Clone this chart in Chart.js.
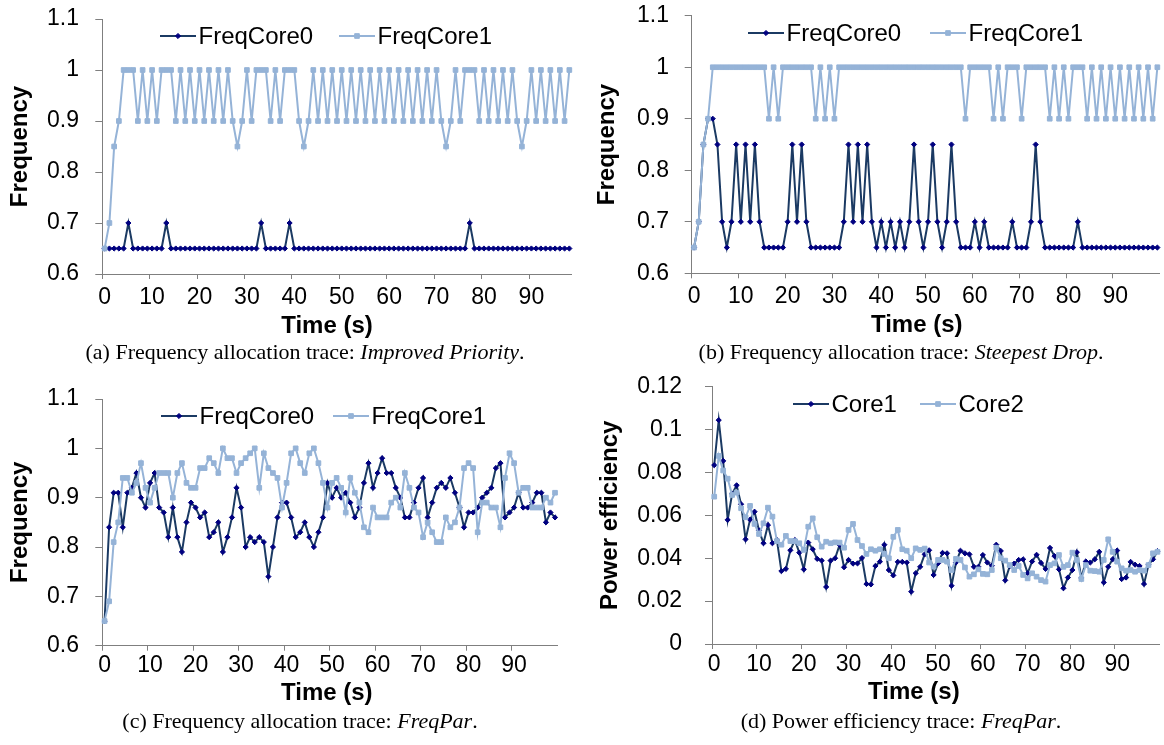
<!DOCTYPE html>
<html><head><meta charset="utf-8">
<script src="https://cdn.jsdelivr.net/npm/chart.js@4.4.1/dist/chart.umd.min.js"></script>
<style>
html,body{margin:0;padding:0;background:#fff;}
body{width:1164px;height:745px;overflow:hidden;position:relative;}
.pn{position:absolute;}
.cap{position:absolute;width:640px;text-align:center;font-family:"Liberation Serif","Times New Roman",serif;font-size:22px;line-height:22px;color:#000;white-space:nowrap;z-index:5;}
</style></head><body>
<canvas id="ca" class="pn" style="left:0;top:0"></canvas>
<canvas id="cb" class="pn" style="left:592px;top:0"></canvas>
<canvas id="cc" class="pn" style="left:0;top:360px"></canvas>
<canvas id="cd" class="pn" style="left:592px;top:360px"></canvas>
<div class="cap" style="left:-15px;top:341px">(a) Frequency allocation trace: <i>Improved Priority</i>.</div>
<div class="cap" style="left:581px;top:341px">(b) Frequency allocation trace: <i>Steepest Drop</i>.</div>
<div class="cap" style="left:-20px;top:710px">(c) Frequency allocation trace: <i>FreqPar</i>.</div>
<div class="cap" style="left:581px;top:710px">(d) Power efficiency trace: <i>FreqPar</i>.</div>
<script>
// ---------- categories ----------
const timeA = Array.from({length: 99}, (_, i) => i);
const timeB = Array.from({length: 100}, (_, i) => i);
const timeC = Array.from({length: 100}, (_, i) => i);
const timeD = Array.from({length: 100}, (_, i) => i);

// ---------- (a) Improved Priority ----------
const ipCore0 = [
 .65,.65,.65,.65,.65,.7,.65,.65,.65,.65,
 .65,.65,.65,.7,.65,.65,.65,.65,.65,.65,
 .65,.65,.65,.65,.65,.65,.65,.65,.65,.65,
 .65,.65,.65,.7,.65,.65,.65,.65,.65,.7,
 .65,.65,.65,.65,.65,.65,.65,.65,.65,.65,
 .65,.65,.65,.65,.65,.65,.65,.65,.65,.65,
 .65,.65,.65,.65,.65,.65,.65,.65,.65,.65,
 .65,.65,.65,.65,.65,.65,.65,.7,.65,.65,
 .65,.65,.65,.65,.65,.65,.65,.65,.65,.65,
 .65,.65,.65,.65,.65,.65,.65,.65,.65];
const ipCore1 = [
 .65,.7,.85,.9,1,1,1,.9,1,.9,
 1,.9,1,1,1,.9,1,.9,1,.9,
 1,.9,1,.9,1,.9,1,.9,.85,.9,
 1,.9,1,1,1,.9,1,.9,1,1,
 1,.9,.85,.9,1,.9,1,.9,1,.9,
 1,.9,1,.9,1,.9,1,.9,1,.9,
 1,.9,1,.9,1,.9,1,.9,1,.9,
 1,.9,.85,.9,1,.9,1,1,1,.9,
 1,.9,1,.9,1,.9,1,.9,.85,.9,
 1,.9,1,.9,1,.9,1,.9,1];

// ---------- (b) Steepest Drop ----------
const sdCore0 = [
 .65,.7,.85,.9,.9,.85,.7,.65,.7,.85,
 .7,.85,.7,.85,.7,.65,.65,.65,.65,.65,
 .7,.85,.7,.85,.7,.65,.65,.65,.65,.65,
 .65,.65,.7,.85,.7,.85,.7,.85,.7,.65,
 .7,.65,.7,.65,.7,.65,.7,.85,.7,.65,
 .7,.85,.7,.65,.7,.85,.7,.65,.65,.65,
 .7,.65,.7,.65,.65,.65,.65,.65,.7,.65,
 .65,.65,.7,.85,.7,.65,.65,.65,.65,.65,
 .65,.65,.7,.65,.65,.65,.65,.65,.65,.65,
 .65,.65,.65,.65,.65,.65,.65,.65,.65,.65];
const sdCore1 = [
 .65,.7,.85,.9,1,1,1,1,1,1,
 1,1,1,1,1,1,.9,1,.9,1,
 1,1,1,1,1,1,.9,1,.9,1,
 .9,1,1,1,1,1,1,1,1,1,
 1,1,1,1,1,1,1,1,1,1,
 1,1,1,1,1,1,1,1,.9,1,
 1,1,1,1,.9,1,.9,1,1,1,
 .9,1,1,1,1,1,.9,1,.9,1,
 .9,1,1,1,.9,1,.9,1,.9,1,
 .9,1,.9,1,.9,1,.9,1,.9,1];

// ---------- (c) FreqPar frequency ----------
const fpCore0 = [
 .65,.84,.91,.91,.84,.91,.92,.95,.90,.88,
 .93,.95,.88,.87,.82,.88,.82,.79,.85,.89,
 .88,.86,.87,.82,.83,.85,.79,.82,.86,.92,
 .88,.80,.82,.81,.82,.81,.74,.80,.86,.89,
 .89,.86,.82,.83,.85,.82,.80,.83,.86,.93,
 .90,.92,.90,.91,.89,.86,.88,.93,.97,.92,
 .95,.98,.95,.95,.92,.90,.86,.86,.89,.92,
 .94,.86,.89,.92,.93,.92,.94,.91,.88,.84,
 .87,.87,.88,.90,.91,.92,.96,.97,.86,.87,
 .88,.91,.88,.88,.89,.91,.91,.85,.87,.86];
const fpCore1 = [
 .65,.69,.81,.85,.94,.94,.91,.93,.97,.92,
 .89,.92,.95,.95,.95,.90,.95,.97,.93,.92,
 .92,.96,.96,.98,.97,.95,1.0,.98,.98,.95,
 .97,.98,.99,1.0,.92,.99,.96,.95,.94,.88,
 .93,.99,1.0,.97,.95,.99,1.0,.97,.93,.88,
 .93,.94,.92,.87,.94,.91,.89,.84,.83,.88,
 .86,.86,.86,.89,.90,.88,.95,.92,.88,.87,
 .82,.85,.83,.81,.81,.86,.84,.85,.88,.96,
 .97,.96,.83,.89,.89,.88,.88,.84,.94,.99,
 .97,.91,.92,.92,.88,.88,.88,.90,.89,.91];

// ---------- (d) FreqPar power efficiency ----------
const peCore1 = [
 .0834,.1044,.0854,.0579,.070,.074,.0652,.0488,.058,.0617,
 .053,.047,.0555,.047,.0485,.034,.035,.0437,.0485,.0426,
 .0348,.0473,.0442,.0397,.0389,.0266,.0389,.040,.0462,.0358,
 .0392,.0375,.0376,.0401,.028,.0278,.0364,.0384,.0463,.0345,
 .032,.0383,.0383,.038,.0244,.033,.036,.0418,.0437,.0322,
 .0376,.0425,.0423,.0272,.038,.0435,.0423,.0418,.036,.036,
 .0415,.038,.0365,.0463,.0434,.0297,.0363,.0375,.0392,.0395,
 .033,.0385,.0416,.0378,.035,.0448,.041,.0348,.026,.031,
 .0345,.0428,.0308,.0385,.038,.0395,.043,.0287,.036,.0395,
 .0436,.0303,.031,.0383,.037,.0364,.028,.0369,.0395,.0433];
const peCore2 = [
 .0687,.0877,.0809,.0771,.0695,.0706,.0633,.0591,.0644,.056,
 .0513,.0563,.0636,.0594,.048,.0463,.0504,.048,.048,.047,
 .0439,.0547,.0586,.0498,.0454,.0477,.047,.0474,.0473,.0449,
 .0532,.056,.0485,.0457,.042,.0442,.0435,.0442,.042,.040,
 .050,.0532,.0442,.0435,.040,.0446,.0439,.0445,.038,.0361,
 .0392,.0392,.0384,.0345,.0397,.0392,.0357,.0314,.0325,.0348,
 .0327,.0325,.0345,.0449,.040,.0389,.0368,.0345,.0364,.0322,
 .0306,.033,.0314,.0298,.0291,.0368,.0376,.0415,.036,.0368,
 .0426,.0392,.0303,.0368,.0342,.034,.0337,.0392,.0488,.043,
 .0384,.0353,.0342,.0345,.0337,.0345,.0342,.0368,.0423,.043];

// ---------- styling ----------
const SANS = '"Liberation Sans", Arial, Helvetica, sans-serif';
const AX = '#7f7f7f';
const DARK_LINE = '#1B3A63', DARK_MARK = '#000080', LIGHT = '#95B3D7';

function darkSet(label, data) {
  return {label, data, borderColor: DARK_LINE, backgroundColor: DARK_MARK,
    pointBackgroundColor: DARK_MARK, pointBorderColor: DARK_MARK, pointStyle: 'rectRot',
    pointRadius: 2.6, pointHoverRadius: 2.6, pointBorderWidth: 1, borderWidth: 2, tension: 0, fill: false, order: 1};
}
function lightSet(label, data) {
  return {label, data, borderColor: LIGHT, backgroundColor: LIGHT,
    pointBackgroundColor: LIGHT, pointBorderColor: LIGHT, pointStyle: 'rect',
    pointRadius: 3.3, pointHoverRadius: 3.3, pointBorderWidth: 1, borderWidth: 2, tension: 0, fill: false, order: 0};
}

function marker(ctx, style, x, y, r, color) {
  ctx.fillStyle = color; ctx.strokeStyle = color; ctx.lineWidth = 1;
  ctx.beginPath();
  if (style === 'rect') {
    const s = r * Math.SQRT1_2;
    ctx.rect(x - s, y - s, 2 * s, 2 * s);
  } else {
    ctx.moveTo(x, y - r); ctx.lineTo(x + r, y); ctx.lineTo(x, y + r); ctx.lineTo(x - r, y); ctx.closePath();
  }
  ctx.fill(); ctx.stroke();
}

const lineLegend = {
  id: 'lineLegend',
  afterDraw(chart) {
    const o = chart.$legendPos; if (!o) return;
    const ctx = chart.ctx;
    ctx.save();
    ctx.font = '24px ' + SANS; ctx.textBaseline = 'middle'; ctx.textAlign = 'left';
    chart.data.datasets.forEach((ds, i) => {
      const x = o.xs[i], y = o.y;
      ctx.strokeStyle = ds.borderColor; ctx.lineWidth = 2;
      ctx.beginPath(); ctx.moveTo(x, y); ctx.lineTo(x + 36, y); ctx.stroke();
      marker(ctx, ds.pointStyle, x + 18, y, ds.pointRadius, ds.pointBackgroundColor);
      ctx.fillStyle = '#000';
      ctx.fillText(ds.label, x + 38.5, y + 1);
    });
    ctx.restore();
  }
};

function shiftTitle(scale, dx) {
  if (scale._shiftWrapped) return;
  scale._shiftWrapped = true;
  const orig = scale.drawTitle;
  scale.drawTitle = function () {
    const l = this.left, r = this.right;
    this.left = l + dx; this.right = r + dx;
    try { orig.call(this); } finally { this.left = l; this.right = r; }
  };
}

function makePanel(id, L, labels, sets, yCfg, yTitle) {
  const cv = document.getElementById(id);
  cv.width = L.w; cv.height = L.h;
  const chart = new Chart(cv, {
    type: 'line',
    data: {labels, datasets: sets},
    options: {
      responsive: false, animation: false, events: [],
      layout: {padding: {left: 0, top: L.top, right: L.right, bottom: 0}},
      plugins: {legend: {display: false}, tooltip: {enabled: false}},
      scales: {
        x: {
          type: 'category', offset: true,
          grid: {display: true, offset: true, drawOnChartArea: false, drawTicks: true, tickLength: 5,
                 color: c => (c.index % 10 === 0 ? AX : 'rgba(0,0,0,0)'), lineWidth: 1},
          border: {display: true, color: AX, width: 1},
          ticks: {autoSkip: false, maxRotation: 0, minRotation: 0, padding: L.xtp, color: '#000',
                  font: {family: SANS, size: 23},
                  callback: function (v, i) { return i % 10 === 0 ? String(this.getLabelForValue(v)) : ''; }},
          title: {display: true, text: 'Time (s)', color: '#000',
                  font: {family: SANS, size: 24, weight: 'bold'}, padding: {top: 0, bottom: L.xtb}},
          afterFit: s => { s.height = L.xh; s.paddingLeft = 0; s.paddingRight = 0; shiftTitle(s, L.xdx); }
        },
        y: {
          min: yCfg.min, max: yCfg.max,
          grid: {display: true, drawOnChartArea: false, drawTicks: true, tickLength: 7, color: AX, lineWidth: 1},
          border: {display: true, color: AX, width: 1},
          ticks: {stepSize: yCfg.step, padding: L.ytp, color: '#000', font: {family: SANS, size: 23},
                  callback: v => String(Math.round(v * 1000) / 1000)},
          title: {display: true, text: yTitle, color: '#000',
                  font: {family: SANS, size: 24, weight: 'bold'}, padding: {top: L.ytt, bottom: 0}},
          afterFit: s => { s.width = L.yw; s.paddingTop = 0; s.paddingBottom = 0; }
        }
      }
    },
    plugins: [lineLegend]
  });
  chart.$legendPos = L.legend;
  chart.draw();
  return chart;
}

const freqY = {min: 0.6, max: 1.1, step: 0.1};
const peY = {min: 0, max: 0.12, step: 0.02};

makePanel('ca', {w: 582, h: 341, top: 19, right: 10.3, yw: 102.3, xh: 67, xtp: 5, xtb: 0.6, xdx: -10,
                 ytp: 16.3, ytt: 6.3, legend: {y: 36, xs: [160, 339]}},
  timeA, [darkSet('FreqCore0', ipCore0), lightSet('FreqCore1', ipCore1)], freqY, 'Frequency');

makePanel('cb', {w: 572, h: 341, top: 15.7, right: 1, yw: 99.7, xh: 67.7, xtp: 4.9, xtb: 1.6, xdx: -9,
                 ytp: 15.7, ytt: 1.1, legend: {y: 33, xs: [156, 338]}},
  timeB, [darkSet('FreqCore0', sdCore0), lightSet('FreqCore1', sdCore1)], freqY, 'Frequency');

makePanel('cc', {w: 582, h: 361, top: 39, right: 24.7, yw: 102.3, xh: 75.3, xtp: 1, xtb: 13.6, xdx: -3,
                 ytp: 16.3, ytt: 5.6, legend: {y: 56, xs: [161, 333]}},
  timeC, [darkSet('FreqCore0', fpCore0), lightSet('FreqCore1', fpCore1)], freqY, 'Frequency');

makePanel('cd', {w: 572, h: 361, top: 26.7, right: 0.7, yw: 120, xh: 77, xtp: 2.2, xtb: 14.6, xdx: -22,
                 ytp: 23, ytt: 3.6, legend: {y: 44, xs: [201, 328]}},
  timeD, [darkSet('Core1', peCore1), lightSet('Core2', peCore2)], peY, 'Power efficiency');
</script>
</body></html>
